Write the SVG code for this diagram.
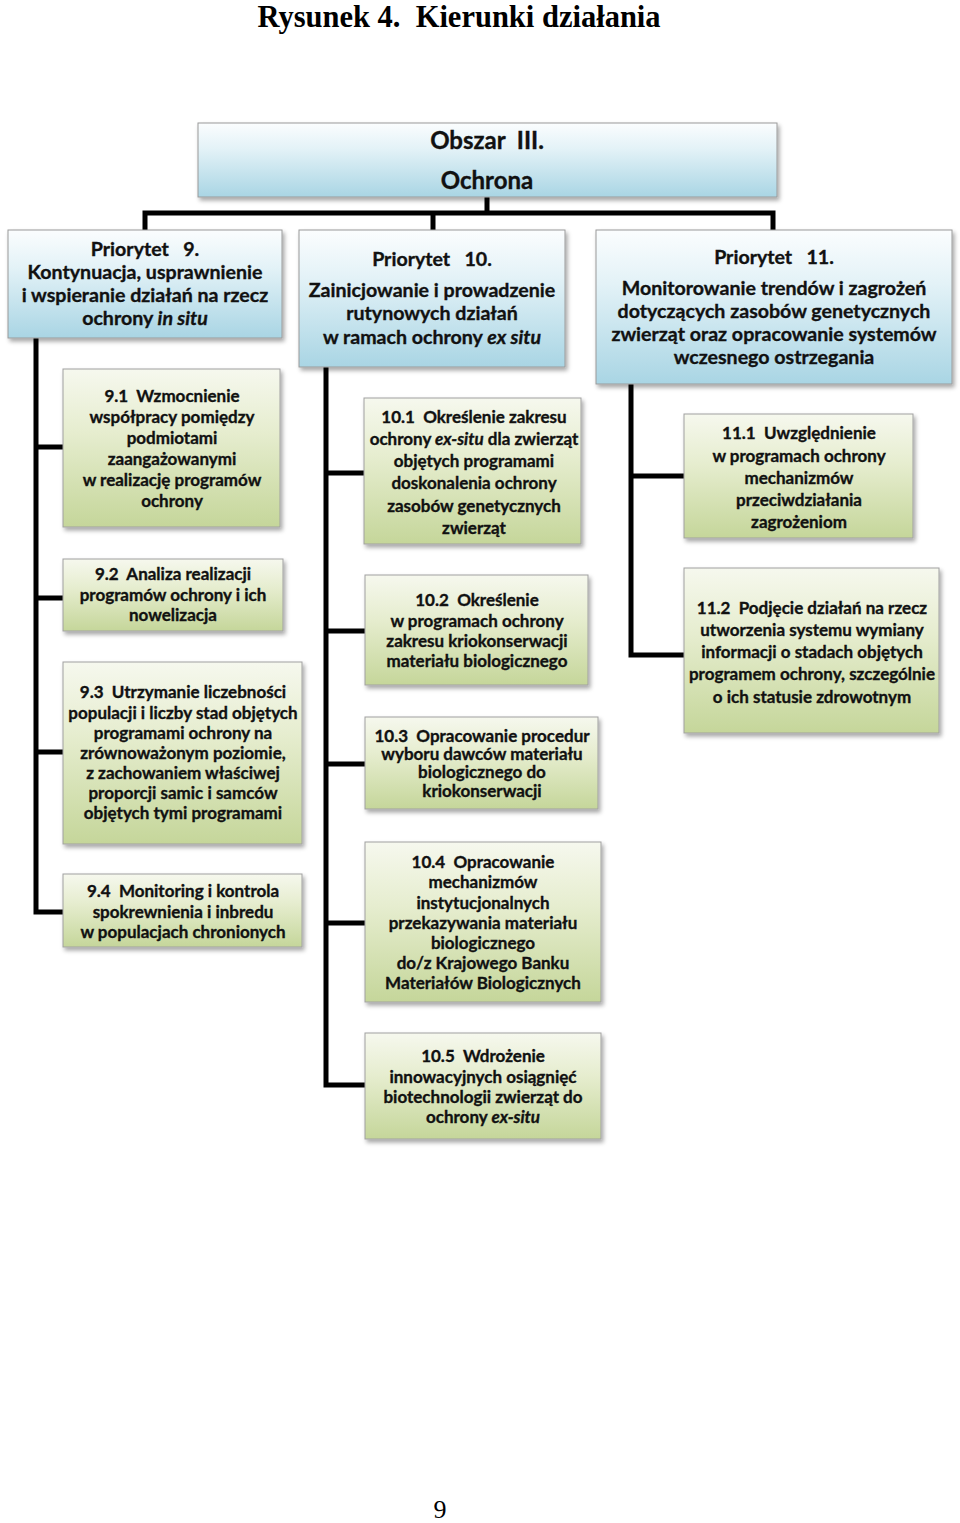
<svg xmlns="http://www.w3.org/2000/svg" width="960" height="1523" viewBox="0 0 960 1523">
<defs>
<linearGradient id="gb" x1="0" y1="0" x2="0" y2="1">
<stop offset="0" stop-color="#fbfdfe"/><stop offset="0.35" stop-color="#e3f2f7"/><stop offset="1" stop-color="#a9d5e4"/>
</linearGradient>
<linearGradient id="gg" x1="0" y1="0" x2="0" y2="1">
<stop offset="0" stop-color="#f6f8ee"/><stop offset="0.4" stop-color="#e6edcf"/><stop offset="1" stop-color="#c5d69a"/>
</linearGradient>
<filter id="sh" x="-10%" y="-10%" width="125%" height="130%">
<feDropShadow dx="2" dy="3" stdDeviation="2" flood-color="#000" flood-opacity="0.35"/>
</filter>
</defs>
<style>
.b{fill:url(#gb);stroke:#9a9a9a;stroke-width:1;filter:url(#sh)}
.g{fill:url(#gg);stroke:#a0a0a0;stroke-width:1;filter:url(#sh)}
.t{font-family:Lato,"Open Sans","Liberation Sans",sans-serif;font-weight:bold;fill:#111;stroke:#111;stroke-width:0.35;text-anchor:middle;white-space:pre}
.p{font-size:19.6px}
.c{font-size:17px}
.h{font-size:24px}
.ln{fill:none;stroke:#000;stroke-width:5;stroke-linejoin:miter}
.tt{font-family:"Liberation Serif","Times New Roman",serif;font-weight:bold;fill:#000;text-anchor:middle;white-space:pre}
</style>
<rect width="960" height="1523" fill="#fff"/>
<text class="tt" x="459" y="27" font-size="30.5">Rysunek 4.  Kierunki działania</text>

<g id="connectors">
<path class="ln" d="M487 197V213M145 230V213H773V230M433 213V230"/>
<path class="ln" d="M36 338V912H63M36 447H63M36 598H63M36 752H63"/>
<path class="ln" d="M326 367V1085H365M326 473H364M326 631H365M326 764H365M326 923H365"/>
<path class="ln" d="M631 384V655H684M631 476H684"/>
</g>

<g id="obszar">
<rect class="b" x="198" y="123" width="579" height="74"/>
<text class="t h" x="487" y="149">Obszar  III.</text>
<text class="t h" x="487" y="189">Ochrona</text>
</g>

<g id="p9">
<rect class="b" x="8" y="230" width="274" height="108"/>
<text class="t p"><tspan x="145" y="256">Priorytet   9.</tspan><tspan x="145" y="279">Kontynuacja, usprawnienie</tspan><tspan x="145" y="302">i wspieranie działań na rzecz</tspan><tspan x="145" y="325">ochrony <tspan font-style="italic">in situ</tspan></tspan></text>
</g>

<g id="p10">
<rect class="b" x="299" y="230" width="266" height="137"/>
<text class="t p"><tspan x="432" y="266">Priorytet   10.</tspan><tspan x="432" y="297">Zainicjowanie i prowadzenie</tspan><tspan x="432" y="320">rutynowych działań</tspan><tspan x="432" y="344">w ramach ochrony <tspan font-style="italic">ex situ</tspan></tspan></text>
</g>

<g id="p11">
<rect class="b" x="596" y="230" width="356" height="154"/>
<text class="t p"><tspan x="774" y="264">Priorytet   11.</tspan><tspan x="774" y="295">Monitorowanie trendów i zagrożeń</tspan><tspan x="774" y="318">dotyczących zasobów genetycznych</tspan><tspan x="774" y="341">zwierząt oraz opracowanie systemów</tspan><tspan x="774" y="364">wczesnego ostrzegania</tspan></text>
</g>

<g id="n91">
<rect class="g" x="63" y="369" width="217" height="158"/>
<text class="t c"><tspan x="172" y="402">9.1  Wzmocnienie</tspan><tspan x="172" y="423">współpracy pomiędzy</tspan><tspan x="172" y="444">podmiotami</tspan><tspan x="172" y="465">zaangażowanymi</tspan><tspan x="172" y="486">w realizację programów</tspan><tspan x="172" y="507">ochrony</tspan></text>
</g>

<g id="n92">
<rect class="g" x="63" y="559" width="220" height="72"/>
<text class="t c"><tspan x="173" y="580">9.2  Analiza realizacji</tspan><tspan x="173" y="601">programów ochrony i ich</tspan><tspan x="173" y="621">nowelizacja</tspan></text>
</g>

<g id="n93">
<rect class="g" x="63" y="662" width="239" height="182"/>
<text class="t c"><tspan x="183" y="698">9.3  Utrzymanie liczebności</tspan><tspan x="183" y="719">populacji i liczby stad objętych</tspan><tspan x="183" y="739">programami ochrony na</tspan><tspan x="183" y="759">zrównoważonym poziomie,</tspan><tspan x="183" y="779">z zachowaniem właściwej</tspan><tspan x="183" y="799">proporcji samic i samców</tspan><tspan x="183" y="819">objętych tymi programami</tspan></text>
</g>

<g id="n94">
<rect class="g" x="63" y="874" width="239" height="73"/>
<text class="t c"><tspan x="183" y="897">9.4  Monitoring i kontrola</tspan><tspan x="183" y="918">spokrewnienia i inbredu</tspan><tspan x="183" y="938">w populacjach chronionych</tspan></text>
</g>

<g id="n101">
<rect class="g" x="364" y="398" width="217" height="146"/>
<text class="t c"><tspan x="474" y="423">10.1  Określenie zakresu</tspan><tspan x="474" y="445">ochrony <tspan font-style="italic">ex-situ</tspan> dla zwierząt</tspan><tspan x="474" y="467">objętych programami</tspan><tspan x="474" y="489">doskonalenia ochrony</tspan><tspan x="474" y="512">zasobów genetycznych</tspan><tspan x="474" y="534">zwierząt</tspan></text>
</g>

<g id="n102">
<rect class="g" x="365" y="575" width="223" height="110"/>
<text class="t c"><tspan x="477" y="606">10.2  Określenie</tspan><tspan x="477" y="627">w programach ochrony</tspan><tspan x="477" y="647">zakresu kriokonserwacji</tspan><tspan x="477" y="667">materiału biologicznego</tspan></text>
</g>

<g id="n103">
<rect class="g" x="365" y="717" width="233" height="92"/>
<text class="t c"><tspan x="482" y="742">10.3  Opracowanie procedur</tspan><tspan x="482" y="760">wyboru dawców materiału</tspan><tspan x="482" y="778">biologicznego do</tspan><tspan x="482" y="797">kriokonserwacji</tspan></text>
</g>

<g id="n104">
<rect class="g" x="365" y="842" width="236" height="160"/>
<text class="t c"><tspan x="483" y="868">10.4  Opracowanie</tspan><tspan x="483" y="888">mechanizmów</tspan><tspan x="483" y="909">instytucjonalnych</tspan><tspan x="483" y="929">przekazywania materiału</tspan><tspan x="483" y="949">biologicznego</tspan><tspan x="483" y="969">do/z Krajowego Banku</tspan><tspan x="483" y="989">Materiałów Biologicznych</tspan></text>
</g>

<g id="n105">
<rect class="g" x="365" y="1033" width="236" height="106"/>
<text class="t c"><tspan x="483" y="1062">10.5  Wdrożenie</tspan><tspan x="483" y="1083">innowacyjnych osiągnięć</tspan><tspan x="483" y="1103">biotechnologii zwierząt do</tspan><tspan x="483" y="1123">ochrony <tspan font-style="italic">ex-situ</tspan></tspan></text>
</g>

<g id="n111">
<rect class="g" x="684" y="414" width="229" height="124"/>
<text class="t c"><tspan x="799" y="439">11.1  Uwzględnienie</tspan><tspan x="799" y="462">w programach ochrony</tspan><tspan x="799" y="484">mechanizmów</tspan><tspan x="799" y="506">przeciwdziałania</tspan><tspan x="799" y="528">zagrożeniom</tspan></text>
</g>

<g id="n112">
<rect class="g" x="684" y="568" width="255" height="165"/>
<text class="t c"><tspan x="812" y="614">11.2  Podjęcie działań na rzecz</tspan><tspan x="812" y="636">utworzenia systemu wymiany</tspan><tspan x="812" y="658">informacji o stadach objętych</tspan><tspan x="812" y="680">programem ochrony, szczególnie</tspan><tspan x="812" y="703">o ich statusie zdrowotnym</tspan></text>
</g>

<text x="440" y="1518" font-family="Liberation Serif,serif" font-size="26" text-anchor="middle" fill="#000">9</text>
</svg>
